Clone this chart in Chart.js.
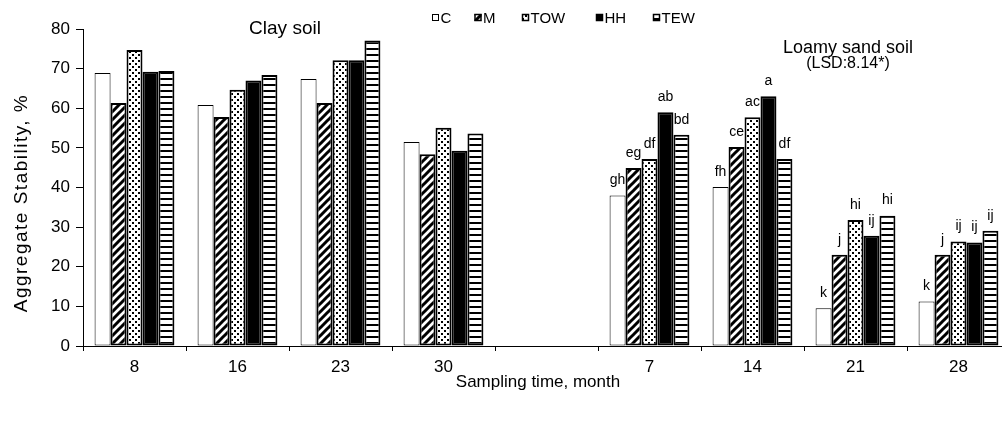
<!DOCTYPE html>
<html>
<head>
<meta charset="UTF-8">
<title>Aggregate Stability</title>
<style>
  html, body { margin: 0; padding: 0; overflow: hidden; background: #fff; }
  #wrap { width: 1012px; height: 421px; }
</style>
</head>
<body>
<div id="wrap"><canvas id="myChart" width="1012" height="421"></canvas></div>
<script src="https://cdn.jsdelivr.net/npm/chart.js@4.4.1/dist/chart.umd.min.js"></script>
<script type="text/javascript">
// sampling months: clay soil, gap, loamy sand soil
var months = ['8', '16', '23', '30', '', '7', '14', '21', '28'];
var treatments = ['C', 'M', 'TOW', 'HH', 'TEW'];

var valC   = [68.9, 60.8, 67.4, 51.5, null, 38.0, 40.1,  9.5, 11.2];
var valM   = [61.3, 57.8, 61.3, 48.4, null, 44.9, 50.2, 23.0, 23.0];
var valTOW = [74.7, 64.7, 72.1, 55.1, null, 47.2, 57.7, 31.8, 26.4];
var valHH  = [69.2, 67.0, 72.1, 49.3, null, 59.0, 63.0, 27.8, 26.1];
var valTEW = [69.4, 68.4, 77.1, 53.6, null, 53.3, 47.2, 32.9, 29.1];

// LSD letters (loamy sand soil only)
var letC   = ['', '', '', '', '', 'gh', 'fh', 'k', 'k'];
var letM   = ['', '', '', '', '', 'eg', 'ce', 'j', 'j'];
var letTOW = ['', '', '', '', '', 'df', 'ac', 'hi', 'ij'];
var letHH  = ['', '', '', '', '', 'ab', 'a', 'ij', 'ij'];
var letTEW = ['', '', '', '', '', 'bd', 'df', 'hi', 'ij'];

var FONT = '"Liberation Sans", Arial, sans-serif';
var canvas = document.getElementById('myChart');
var ctx = canvas.getContext('2d');

function tile(w, h, draw) {
  var c = document.createElement('canvas');
  c.width = w; c.height = h;
  var g = c.getContext('2d');
  g.fillStyle = '#fff';
  g.fillRect(0, 0, w, h);
  g.fillStyle = '#000';
  g.strokeStyle = '#000';
  draw(g);
  return ctx.createPattern(c, 'repeat');
}

var diag = tile(8, 8, function(g) {
  g.lineWidth = 3;
  g.beginPath();
  g.moveTo(-2, 10); g.lineTo(10, -2);
  g.moveTo(-6, 6); g.lineTo(6, -6);
  g.moveTo(2, 14); g.lineTo(14, 2);
  g.stroke();
});
var dots = tile(6, 6, function(g) {
  g.fillRect(0, 0, 2, 2);
  g.fillRect(3, 3, 2, 2);
});
var hstripe = tile(6, 6, function(g) {
  g.fillRect(0, 0, 6, 2);
});

var fills = ['#fff', diag, dots, '#000', hstripe];
var values = [valC, valM, valTOW, valHH, valTEW];
var letters = [letC, letM, letTOW, letHH, letTEW];

var datasets = treatments.map(function(name, i) {
  return {
    label: name,
    data: values[i],
    backgroundColor: fills[i],
    borderColor: '#000',
    borderWidth: i === 0 ? 1 : 2,
    borderSkipped: false
  };
});

var extras = {
  id: 'extras',
  beforeDatasetsDraw: function(chart) {
    var g = chart.ctx;
    g.save();
    g.fillStyle = '#000';
    g.font = '14px ' + FONT;
    g.textAlign = 'center';
    g.textBaseline = 'middle';
    chart.data.datasets.forEach(function(ds, i) {
      chart.getDatasetMeta(i).data.forEach(function(bar, j) {
        var t = letters[i][j];
        if (!t) return;
        g.fillText(t, bar.x, bar.y - 15);
      });
    });
    g.restore();
  },
  afterDraw: function(chart) {
    var g = chart.ctx;
    g.save();
    g.fillStyle = '#000';

    // legend
    var lx = [432, 474.5, 522, 596, 653];
    g.font = '15px ' + FONT;
    g.textBaseline = 'alphabetic';
    g.textAlign = 'left';
    treatments.forEach(function(name, i) {
      g.fillStyle = fills[i];
      g.fillRect(lx[i], 14, 7, 7);
      g.strokeStyle = '#000';
      g.lineWidth = i === 0 ? 1 : 1.5;
      g.strokeRect(lx[i] + 0.5, 14.5, 6, 6);
      g.fillStyle = '#000';
      g.fillText(name, lx[i] + 8.5, 22.5);
    });

    // soil titles
    g.textAlign = 'center';
    g.font = '19px ' + FONT;
    g.fillText('Clay soil', 285, 34);
    g.font = '18px ' + FONT;
    g.fillText('Loamy sand soil', 848, 53);
    g.font = '16px ' + FONT;
    g.fillText('(LSD:8.14*)', 848, 68);

    // axis titles
    g.font = '17px ' + FONT;
    g.textBaseline = 'middle';
    g.fillText('Sampling time, month', 538, 382);
    g.translate(22, 203);
    g.rotate(-Math.PI / 2);
    g.font = '19px ' + FONT;
    g.letterSpacing = '1.5px';
    g.fillText('Aggregate Stability, %', 0, 0);
    g.restore();
  }
};

var myChart = new Chart(ctx, {
  type: 'bar',
  data: { labels: months, datasets: datasets },
  options: {
    responsive: false,
    animation: false,
    devicePixelRatio: 1,
    layout: { padding: { top: 29, right: 2, left: 0, bottom: 0 } },
    datasets: { bar: { categoryPercentage: 0.775, barPercentage: 1.0 } },
    plugins: { legend: { display: false }, tooltip: { enabled: false } },
    scales: {
      x: {
        grid: { display: true, drawOnChartArea: false, tickLength: 5, color: '#000', offset: true },
        border: { display: true, color: '#000', width: 1 },
        ticks: { color: '#000', font: { family: FONT, size: 17 }, padding: 6, maxRotation: 0, autoSkip: false },
        afterFit: function(s) { s.height = 75; }
      },
      y: {
        min: 0,
        max: 80,
        grid: { display: true, drawOnChartArea: false, tickLength: 7, color: '#000' },
        border: { display: true, color: '#000', width: 1 },
        ticks: { stepSize: 10, color: '#000', font: { family: FONT, size: 17 }, padding: 6 },
        afterFit: function(s) { s.width = 83; }
      }
    }
  },
  plugins: [extras]
});
</script>
</body>
</html>
